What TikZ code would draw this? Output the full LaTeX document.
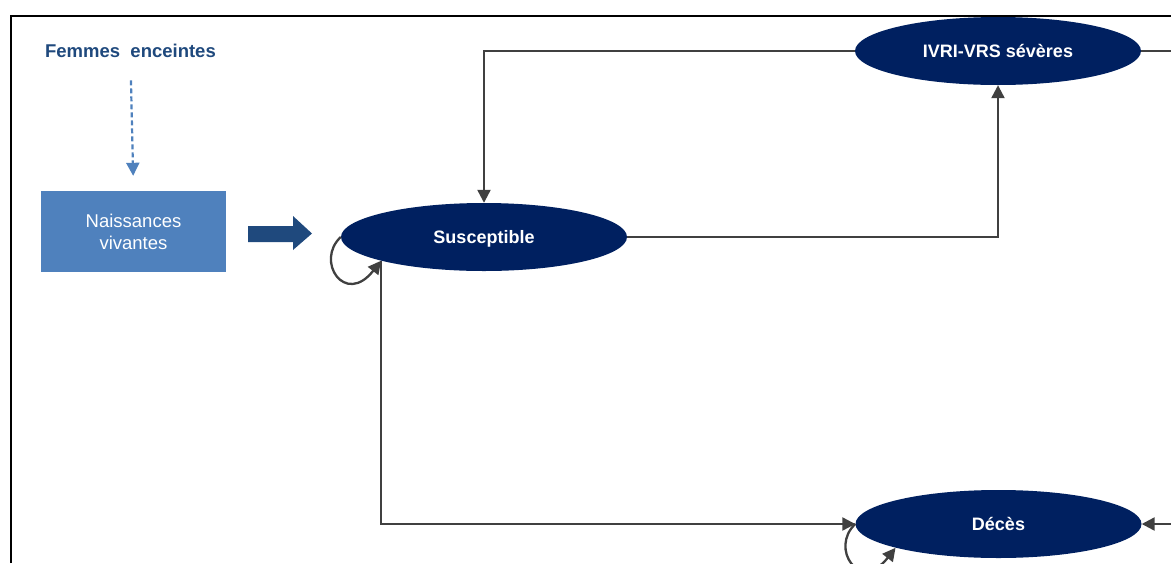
\documentclass[tikz,border=0pt]{standalone}
\usepackage{fontspec}
\setmainfont{Liberation Sans}
\usetikzlibrary{shapes.geometric,arrows.meta}
\definecolor{navy}{RGB}{0,32,96}
\definecolor{boxblue}{RGB}{79,129,189}
\definecolor{darkblue}{RGB}{31,73,125}
\definecolor{linegrey}{RGB}{64,64,64}
\tikzset{
  state/.style={ellipse, fill=navy, minimum width=286pt, minimum height=68pt, inner sep=0pt,
    text=white, font=\fontsize{18}{21}\selectfont\bfseries},
  conn/.style={draw=linegrey, line width=2.3pt, -{Triangle[length=13pt,width=13pt]}},
  plain/.style={draw=linegrey, line width=2.3pt},
  dasharr/.style={draw=boxblue, line width=2.2pt, dash pattern=on 5pt off 3pt,
    -{Triangle[length=13pt,width=13pt,fill=boxblue]}}
}
\begin{document}
\begin{tikzpicture}[x=1pt,y=-1pt]
\useasboundingbox (0,0) rectangle (1171,563);
% frame
\draw[line width=2.5pt] (11,563) -- (11,16) -- (1171,16);
% nodes
\node[text=darkblue, font=\fontsize{18.5}{22}\selectfont\bfseries] (F) at (130.5,51) {Femmes\ \ enceintes};
\node[fill=boxblue, minimum width=185pt, minimum height=81pt, inner sep=0pt, text=white,
  align=center, font=\fontsize{18.5}{22}\selectfont] (N) at (133.5,231.5) {Naissances\\vivantes};
\node[state, text depth=0pt] (S) at (484,237) {Susceptible};
\node[state] (I) at (998,51) {IVRI-VRS sévères};
\node[state] (D) at (998.5,524) {Décès};
\coordinate (rI) at (1171,51);
\coordinate (rD) at (1171,524);
% dashed arrow
\draw[dasharr, shorten <=19pt, shorten >=15pt] (F.south) -- (N.north);
% thick arrow
\fill[darkblue] (248,226) -- (293,226) -- (293,216) -- (312,233.5) -- (293,250) -- (293,242) -- (248,242) -- cycle;
% connectors
\draw[conn] (I.west) -| (S.north);
\draw[conn] (S.east) -| (I.south);
\draw[plain] (I.east) -- (rI);
\draw[conn] (rD) -- (D.east);
\draw[conn] (S.193) |- (D.west);
% self loops
\draw[conn] (S.west) .. controls +(-26,24) and +(-36,46) .. (S.193);
\draw[conn] (D.west) .. controls +(-26,24) and +(-36,46) .. (D.193);
\end{tikzpicture}
\end{document}
